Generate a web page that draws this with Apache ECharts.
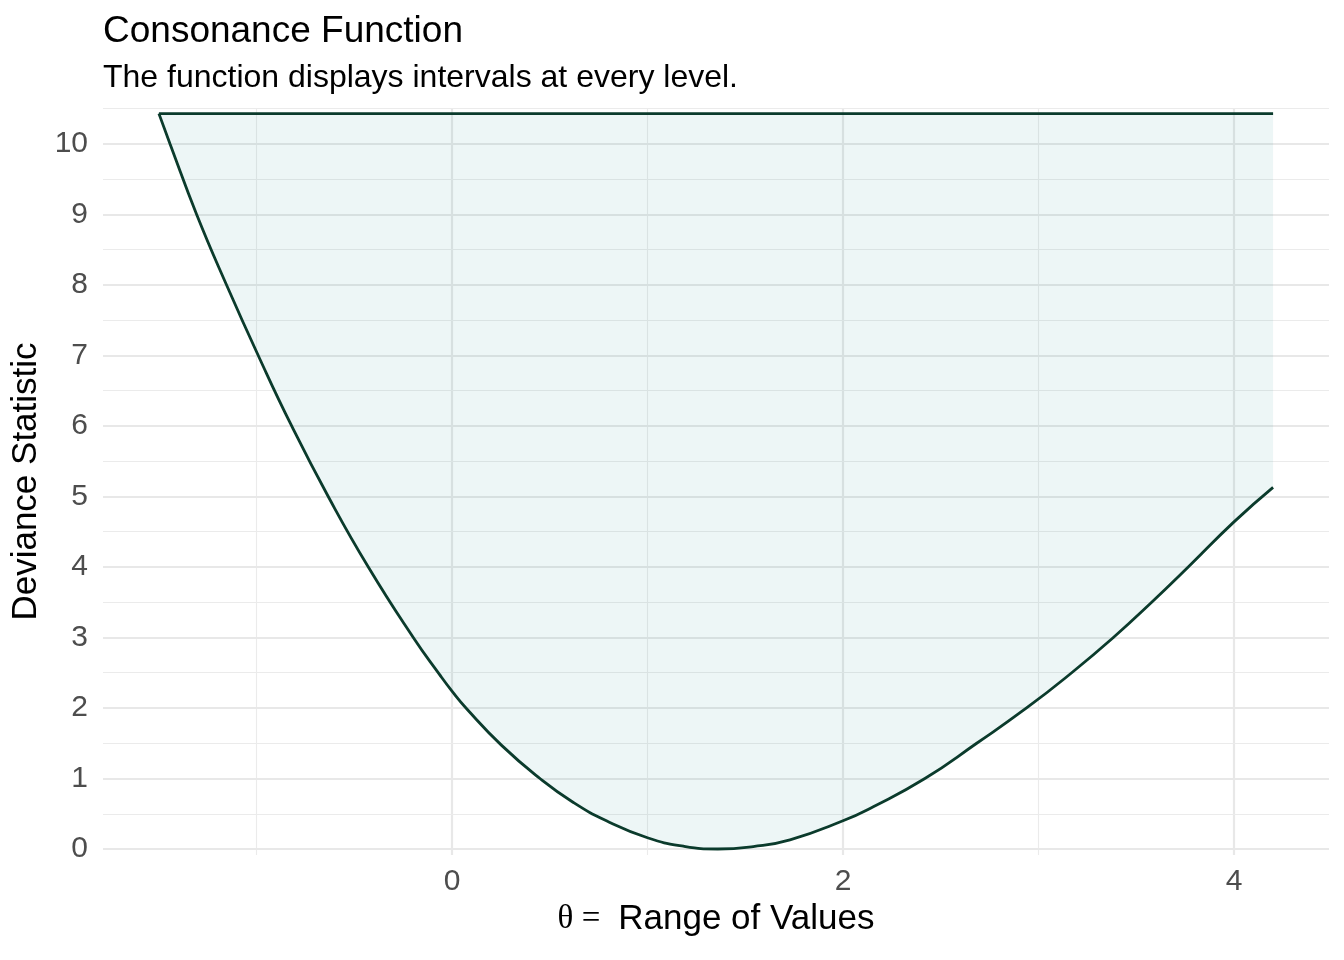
<!DOCTYPE html>
<html lang="en">
<head>
    <meta charset="UTF-8">
    <title>Consonance Function</title>
    <style>html, body { margin: 0; padding: 0; background: #fff; }</style>
</head>
<body>
<div id="main" style="width: 1344px;height:960px;"></div>

<script src="https://cdn.jsdelivr.net/npm/echarts@6/dist/echarts.min.js"></script>

<script type="text/javascript">
    // points (theta, deviance)
    var theta = [-1.499, -1.442, -1.306, -1.153, -0.991, -0.820, -0.633, -0.428, -0.198, -0.065,
        0.0, 0.075, 0.254, 0.450, 0.621, 0.790, 1.0, 1.183, 1.360, 1.541,
        1.729, 2.0, 2.155, 2.419, 2.684, 2.939, 3.170, 3.383, 3.579,
        3.766, 4.0, 4.2];
    var deviance = [10.43, 10.0, 9.0, 8.0, 7.0, 6.0, 5.0, 4.0, 3.0, 2.48,
        2.24, 1.99, 1.47, 1.0, 0.66, 0.40, 0.16, 0.04, 0.0, 0.035,
        0.13, 0.40, 0.6, 1.0, 1.5, 2.0, 2.5, 3.0, 3.5,
        4.0, 4.64, 5.13];

    // tick labels and grid positions
    var xLabels = [0, 2, 4];
    var xMinor = [-1, 1, 3];
    var yLabels = [0, 1, 2, 3, 4, 5, 6, 7, 8, 9, 10];
    var yMinor = [0.5, 1.5, 2.5, 3.5, 4.5, 5.5, 6.5, 7.5, 8.5, 9.5, 10.5];

    var font = "'Liberation Sans', Arial, Helvetica, sans-serif";
    var lineColor = '#0b3b2c';

    var curve = theta.map(function (t, i) { return [t, deviance[i]]; });
    var topValue = Math.max.apply(null, deviance);
    var topLine = [[theta[0], topValue], [theta[theta.length - 1], topValue]];

    function isIn(list, v) {
        for (var i = 0; i < list.length; i++) {
            if (Math.abs(list[i] - v) < 1e-9) return true;
        }
        return false;
    }

    // ggplot-like grid lines
    var gridLines = [];
    xLabels.forEach(function (v) { gridLines.push({xAxis: v, lineStyle: {color: '#e8e8e8', width: 2.2, type: 'solid'}}); });
    xMinor.forEach(function (v) { gridLines.push({xAxis: v, lineStyle: {color: '#ebebeb', width: 1.1, type: 'solid'}}); });
    yLabels.forEach(function (v) { gridLines.push({yAxis: v, lineStyle: {color: '#e8e8e8', width: 2.2, type: 'solid'}}); });
    yMinor.forEach(function (v) { gridLines.push({yAxis: v, lineStyle: {color: '#ebebeb', width: 1.1, type: 'solid'}}); });

    var myChart = echarts.init(document.getElementById('main'));

    var option = {
        animation: false,
        backgroundColor: '#ffffff',
        title: {
            text: 'Consonance Function',
            subtext: 'The function displays intervals at every level.',
            left: 103,
            top: 13,
            padding: 0,
            itemGap: 12,
            textStyle: {fontFamily: font, fontSize: 37, fontWeight: 'normal', color: '#000'},
            subtextStyle: {fontFamily: font, fontSize: 32, color: '#000'}
        },
        grid: {left: 103, right: 15, top: 108, bottom: 105, containLabel: false},
        xAxis: {
            type: 'value',
            min: -1.785,
            max: 4.486,
            splitNumber: 6,
            axisLine: {show: false},
            axisTick: {show: false},
            splitLine: {show: false},
            axisLabel: {
                customValues: xLabels,
                fontFamily: font, fontSize: 30, color: '#4d4d4d', margin: 12,
                formatter: function (v) { return isIn(xLabels, v) ? String(v) : ''; }
            },
            name: '{t|θ =}{r|Range of Values}',
            nameLocation: 'middle',
            nameGap: 41,
            nameTextStyle: {
                rich: {
                    t: {fontFamily: "'Liberation Serif', 'DejaVu Serif', serif", fontSize: 33, color: '#000', padding: [0, 18, 0, 0]},
                    r: {fontFamily: font, fontSize: 35, color: '#000'}
                }
            }
        },
        yAxis: {
            type: 'value',
            min: -0.085,
            max: 10.51,
            splitNumber: 11,
            axisLine: {show: false},
            axisTick: {show: false},
            splitLine: {show: false},
            axisLabel: {
                customValues: yLabels,
                fontFamily: font, fontSize: 30, color: '#4d4d4d', margin: 15,
                formatter: function (v) { return isIn(yLabels, v) ? String(v) : ''; }
            },
            name: 'Deviance Statistic',
            nameLocation: 'middle',
            nameGap: 57,
            nameTextStyle: {fontFamily: font, fontSize: 35, color: '#000'}
        },
        series: [
            {
                name: 'grid',
                type: 'line',
                data: [],
                z: 1,
                silent: true,
                markLine: {
                    silent: true,
                    z: 1,
                    symbol: ['none', 'none'],
                    label: {show: false},
                    lineStyle: {type: 'solid'},
                    data: gridLines
                }
            },
            {
                name: 'deviance',
                type: 'line',
                data: curve,
                smooth: 0.5,
                showSymbol: false,
                z: 3,
                lineStyle: {color: lineColor, width: 2.8},
                areaStyle: {color: 'rgba(0,128,128,0.1)', origin: topValue}
            },
            {
                name: 'top',
                type: 'line',
                data: topLine,
                showSymbol: false,
                z: 3,
                lineStyle: {color: lineColor, width: 2.8}
            }
        ]
    };
    myChart.setOption(option);
</script>
</body>
</html>
